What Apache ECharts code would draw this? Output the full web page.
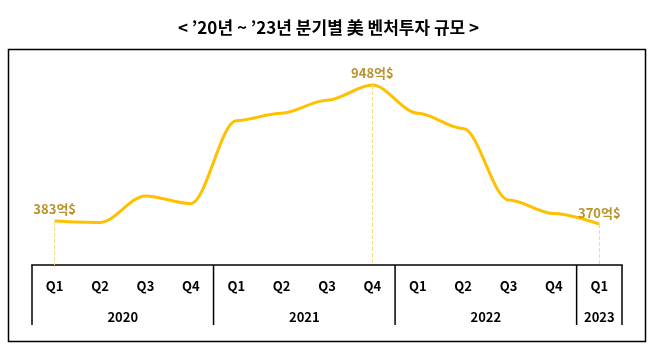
<!DOCTYPE html>
<html>
<head>
<meta charset="utf-8">
<script src="https://cdn.jsdelivr.net/npm/echarts@6/dist/echarts.min.js"></script>
<style>html,body{margin:0;padding:0;background:#fff}#c{width:657px;height:360px}</style>
</head>
<body>
<div id="c"></div>
<script>
const quarters = ['Q1','Q2','Q3','Q4','Q1','Q2','Q3','Q4','Q1','Q2','Q3','Q4','Q1'];
const values = [383, 377, 487, 455, 800, 831, 885, 948, 831, 767, 470, 414, 370];
const years = ['2020','2021','2022','2023'];
const yearCounts = [4, 4, 4, 1];
const labeledIdx = [0, 7, 12];
const unit = '억$';
const titleText = '< ’20년 ~ ’23년 분기별 美 벤처투자 규모 >';

const FONT = '"Noto Sans CJK KR", "Noto Sans", sans-serif';
const chart = echarts.init(document.getElementById('c'));

const lineData = values.map((v, i) => labeledIdx.includes(i)
  ? { value: v, label: { show: true } } : { value: v });

const markData = labeledIdx.map(i => [
  { coord: [i, values[i]] },
  { coord: [i, 200] }
]);

let acc = 0;
const yearData = years.map((y, i) => {
  const s = acc; acc += yearCounts[i];
  return [s, acc, y, i === years.length - 1 ? 1 : 0];
});

chart.setOption({
  animation: false,
  title: {
    text: titleText, left: 'center', top: 14,
    textStyle: { fontFamily: FONT, fontSize: 17, fontWeight: 'bold', color: '#000' }
  },
  graphic: [{
    type: 'rect', shape: { x: 8.5, y: 49.5, width: 637, height: 292 },
    style: { fill: 'none', stroke: '#000', lineWidth: 1.5 }, silent: true
  }],
  grid: [
    { left: 32, right: 35, top: 72.5, bottom: 95 },
    { left: 32, right: 35, top: 265, height: 60 }
  ],
  xAxis: [
    {
      type: 'category', gridIndex: 0, data: quarters, boundaryGap: true,
      axisLine: { show: true, lineStyle: { color: '#404040', width: 2 } },
      axisTick: { show: false },
      axisLabel: { margin: 15, color: '#000', fontFamily: FONT, fontSize: 13, fontWeight: 'bold', interval: 0 }
    },
    { type: 'value', gridIndex: 1, min: 0, max: quarters.length, show: false }
  ],
  yAxis: [
    { type: 'value', gridIndex: 0, min: 200, max: 1000, show: false },
    { type: 'value', gridIndex: 1, min: 0, max: 1, show: false }
  ],
  series: [
    {
      type: 'line', xAxisIndex: 0, yAxisIndex: 0, data: lineData,
      smooth: 0.33, smoothMonotone: 'x', symbol: 'circle', symbolSize: 0, showSymbol: true,
      lineStyle: { color: '#FFC000', width: 3 },
      itemStyle: { color: '#FFC000' },
      label: {
        show: false, position: 'top', distance: 5,
        formatter: p => p.value + unit,
        color: '#B8922A', fontFamily: FONT, fontSize: 13, fontWeight: 'bold'
      },
      markLine: {
        silent: true, symbol: ['none', 'none'], label: { show: false },
        lineStyle: { color: '#F7D97E', type: 'dashed', width: 1 },
        data: markData
      },
      z: 3
    },
    {
      type: 'custom', xAxisIndex: 1, yAxisIndex: 1, data: yearData,
      renderItem: (params, api) => {
        const top = api.coord([api.value(0), 1]);
        const bot = api.coord([api.value(0), 0]);
        const endTop = api.coord([api.value(1), 1]);
        const children = [
          { type: 'line', shape: { x1: top[0], y1: top[1], x2: bot[0], y2: bot[1] },
            style: { stroke: '#000', lineWidth: 1.5 } },
          { type: 'text', style: {
              text: years[params.dataIndex],
              x: (top[0] + endTop[0]) / 2, y: bot[1] - 8,
              align: 'center', verticalAlign: 'middle',
              font: 'bold 13px ' + FONT, fill: '#000' } }
        ];
        if (api.value(3) === 1) {
          children.push({ type: 'line', shape: { x1: endTop[0], y1: top[1], x2: endTop[0], y2: bot[1] },
            style: { stroke: '#000', lineWidth: 1.5 } });
        }
        return { type: 'group', children };
      }
    }
  ]
});
</script>
</body>
</html>
